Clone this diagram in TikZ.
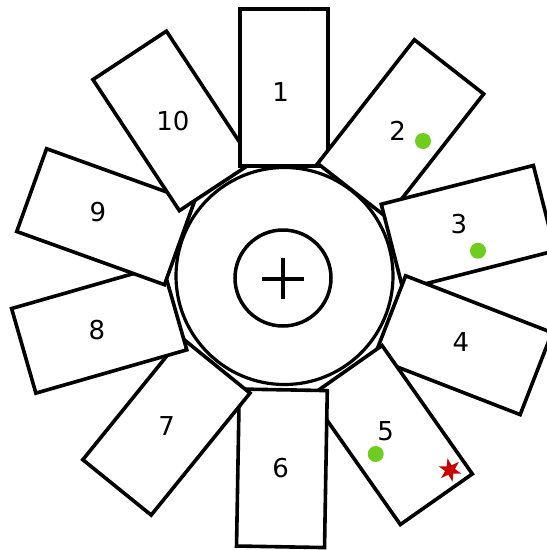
\documentclass[tikz,border=0pt]{standalone}
\usepackage{fontspec}
\setmainfont{DejaVu Sans}
\usetikzlibrary{shapes.geometric}
\definecolor{dotgreen}{RGB}{110,205,30}
\definecolor{starred}{RGB}{205,0,0}
\begin{document}
\begin{tikzpicture}[x=1pt,y=-1pt,
  seat/.style={draw=black, fill=white, line width=3.6pt, minimum width=88pt,
    minimum height=157pt, inner sep=0pt, line join=miter},
  num/.style={inner sep=0pt, font=\fontsize{26}{30}\selectfont},
  gdot/.style={circle, fill=dotgreen, minimum size=16pt, inner sep=0pt},
  hubring/.style={circle, draw=black, fill=white, inner sep=0pt}]
\clip (0,0) rectangle (547,550);
\fill[white] (0,0) rectangle (547,550);
% seats
\node[seat, rotate=0]      (s1)  at (284,87.5)   {};
\node[seat, rotate=-38]    (s2)  at (400.7,128.7) {};
\node[seat, rotate=-75.7]  (s3)  at (468.2,227.5) {};
\node[seat, rotate=-111.2] (s4)  at (462.9,345.2) {};
\node[seat, rotate=-144.9] (s5)  at (391.2,435)   {};
\node[seat, rotate=-1]     (s6)  at (281.9,468.3) {};
\node[seat, rotate=-39]    (s7)  at (166.4,426.4) {};
\node[seat, rotate=-74]    (s8)  at (99.2,329.2)  {};
\node[seat, rotate=70.2]   (s9)  at (105.5,216.7) {};
\node[seat, rotate=33.4]   (s10) at (172.9,120.9) {};
% seat 1 lies over seat 10 but under seat 2
\begin{scope}
  \clip (225,0) rectangle (310,200);
  \node[seat] (s1b) at (284,87.5) {};
\end{scope}
% hub
\node[hubring, line width=3.2pt, minimum size=217pt] (hub) at (284.5,276) {};
\node[hubring, line width=3.5pt, minimum size=96pt] (inner) at (283,278) {};
\draw[line width=4pt] ([xshift=-21pt,yshift=-0.5pt]inner.center) -- ([xshift=21pt,yshift=-0.5pt]inner.center);
\draw[line width=4pt] ([yshift=20.5pt]inner.center) -- ([yshift=-20.5pt]inner.center);
% labels
\node[num] (l1)  at (280.7,92.5)  {1};
\node[num] (l2)  at (397.7,130.8) {2};
\node[num] (l3)  at (459,223.7)   {3};
\node[num] (l4)  at (461,342.2)   {4};
\node[num] (l5)  at (385.7,431.2) {5};
\node[num] (l6)  at (280.7,468.3) {6};
\node[num] (l7)  at (166.7,426.2) {7};
\node[num] (l8)  at (97,330)      {8};
\node[num] (l9)  at (98,212)      {9};
\node[num] (l10) at (172.8,121.2) {10};
% markers
\node[gdot] (d2) at (423,141)   {};
\node[gdot] (d3) at (478,250.7) {};
\node[gdot] (d5) at (375.7,454) {};
\node[star, star points=6, star point ratio=2.4, minimum size=24pt,
  inner sep=0pt, fill=starred, rotate=12] (st5) at (450,470) {};
\end{tikzpicture}
\end{document}
